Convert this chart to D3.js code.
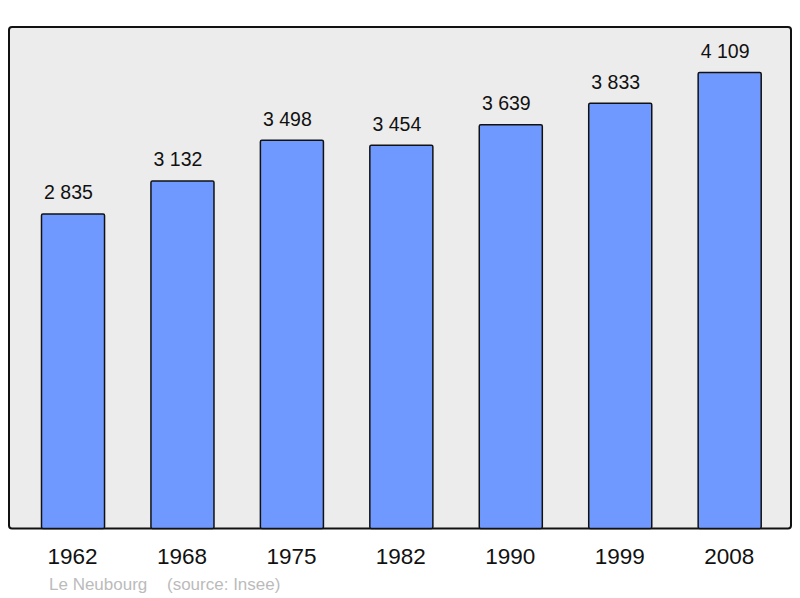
<!DOCTYPE html>
<html><head><meta charset="utf-8">
<script src="https://cdn.jsdelivr.net/npm/d3@7"></script>
<style>body{margin:0;background:#fff}svg{display:block}text{font-family:"Liberation Sans",Arial,sans-serif}</style>
</head><body>
<script>
const years = ["1962","1968","1975","1982","1990","1999","2008"];
const population = [2835,3132,3498,3454,3639,3833,4109];
const valueLabels = ["2 835","3 132","3 498","3 454","3 639","3 833","4 109"];
const place = "Le Neubourg";
const source = "(source: Insee)";

const W=800,H=598;
const svg=d3.select("body").append("svg").attr("width",W).attr("height",H);
const frame={x0:9,y0:27,x1:791,y1:528.4};
svg.append("rect").attr("x",frame.x0).attr("y",frame.y0)
  .attr("width",frame.x1-frame.x0).attr("height",frame.y1-frame.y0)
  .attr("rx",3).attr("fill","#ececec").attr("stroke","#111").attr("stroke-width",2);

const x=d3.scaleBand().domain(years).range([18.3,784.4]).paddingInner(0.424).paddingOuter(0.212);
const y=d3.scaleLinear().domain([0,d3.max(population)*1.1]).range([frame.y1,frame.y0]);

svg.selectAll("rect.bar").data(years).join("rect").attr("class","bar")
  .attr("x",d=>x(d)).attr("width",x.bandwidth())
  .attr("y",(d,i)=>y(population[i])).attr("height",(d,i)=>y(0)-y(population[i]))
  .attr("rx",1.5).attr("fill","#7099ff").attr("stroke","#111").attr("stroke-width",1.5);

svg.selectAll("text.val").data(years).join("text").attr("class","val")
  .attr("x",d=>x(d)+x.bandwidth()/2-4.5).attr("y",(d,i)=>y(population[i])-14.5)
  .attr("text-anchor","middle").attr("font-size",19.5).attr("fill","#111")
  .text((d,i)=>valueLabels[i]);

svg.selectAll("text.yr").data(years).join("text").attr("class","yr")
  .attr("x",d=>x(d)+x.bandwidth()/2-0.5).attr("y",564)
  .attr("text-anchor","middle").attr("font-size",22.5).attr("fill","#111")
  .text(d=>d);

svg.append("text").attr("x",49).attr("y",590).attr("font-size",17).attr("fill","#bbb").text(place);
svg.append("text").attr("x",167).attr("y",590).attr("font-size",17).attr("fill","#bbb").text(source);
</script>
</body></html>
